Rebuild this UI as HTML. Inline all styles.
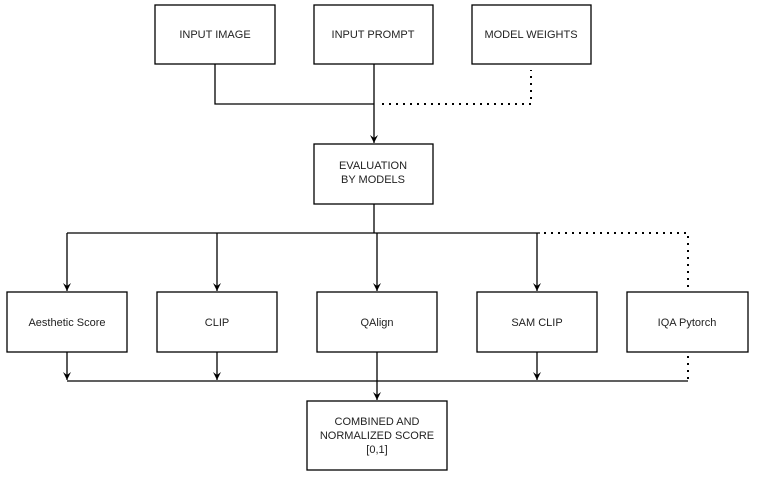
<!DOCTYPE html>
<html><head><style>
body{margin:0;background:#fff;}
svg text{font-family:"Liberation Sans",Arial,sans-serif;font-size:11px;fill:#222;text-anchor:middle;}
</style></head><body>
<svg width="775" height="489" xmlns="http://www.w3.org/2000/svg">
<defs><marker id="a" markerWidth="9" markerHeight="9" refX="8" refY="4" orient="auto" markerUnits="userSpaceOnUse"><path d="M0,0 L8,4 L0,8 L3,4 Z" fill="#000"/></marker></defs>
<g fill="#fff" stroke="#000" stroke-width="1.3">
<rect x="155" y="5" width="120" height="59"/>
<rect x="314" y="5" width="119" height="59"/>
<rect x="472" y="5" width="119" height="59"/>
<rect x="314" y="144" width="119" height="60"/>
<rect x="7" y="292" width="120" height="60"/>
<rect x="157" y="292" width="120" height="60"/>
<rect x="317" y="292" width="120" height="60"/>
<rect x="477" y="292" width="120" height="60"/>
<rect x="627" y="292" width="121" height="60"/>
<rect x="307" y="401" width="140" height="69"/>
</g>
<g fill="none" stroke="#000" stroke-width="1.3">
<polyline points="215,64 215,104 374,104"/>
<line x1="374" y1="64" x2="374" y2="143" marker-end="url(#a)"/>
<line x1="374" y1="204" x2="374" y2="233"/>
<line x1="67" y1="233" x2="540" y2="233"/>
<line x1="67" y1="233" x2="67" y2="291" marker-end="url(#a)"/>
<line x1="217" y1="233" x2="217" y2="291" marker-end="url(#a)"/>
<line x1="377" y1="233" x2="377" y2="291" marker-end="url(#a)"/>
<line x1="537" y1="233" x2="537" y2="291" marker-end="url(#a)"/>
<line x1="67" y1="352" x2="67" y2="380" marker-end="url(#a)"/>
<line x1="217" y1="352" x2="217" y2="380" marker-end="url(#a)"/>
<line x1="537" y1="352" x2="537" y2="380" marker-end="url(#a)"/>
<line x1="67" y1="381" x2="688" y2="381"/>
<line x1="377" y1="352" x2="377" y2="400" marker-end="url(#a)"/>
</g>
<g fill="none" stroke="#000" stroke-width="2" stroke-dasharray="2,5">
<polyline points="382,104 531,104 531,70"/>
<polyline points="544,233 688,233 688,292"/>
<line x1="688" y1="356" x2="688" y2="381"/>
</g>
<text x="215" y="38">INPUT IMAGE</text>
<text x="373" y="38">INPUT PROMPT</text>
<text x="531" y="38">MODEL WEIGHTS</text>
<text x="373" y="169">EVALUATION</text>
<text x="373" y="183">BY MODELS</text>
<text x="67" y="326">Aesthetic Score</text>
<text x="217" y="326">CLIP</text>
<text x="377" y="326">QAlign</text>
<text x="537" y="326">SAM CLIP</text>
<text x="687" y="326">IQA Pytorch</text>
<text x="377" y="425">COMBINED AND</text>
<text x="377" y="439">NORMALIZED SCORE</text>
<text x="377" y="453">[0,1]</text>
</svg>
</body></html>
